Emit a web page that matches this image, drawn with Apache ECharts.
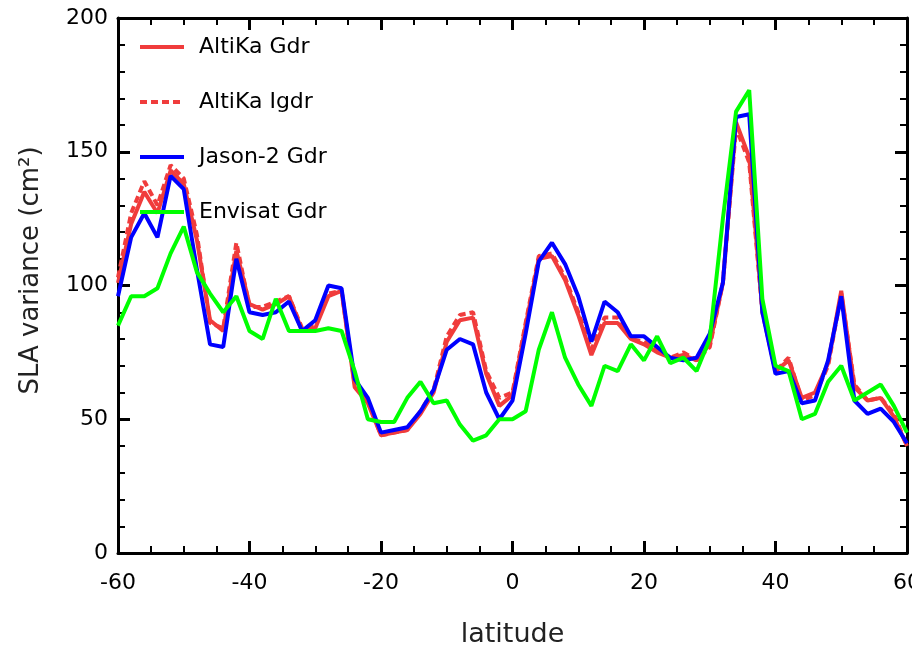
<!DOCTYPE html>
<html>
<head>
<meta charset="utf-8">
<script src="https://cdn.jsdelivr.net/npm/echarts@6/dist/echarts.min.js"></script>
<style>
  html, body { margin: 0; padding: 0; background: #fff; }
  #chart { width: 912px; height: 646px; }
</style>
</head>
<body>
<div id="chart"></div>
<script>
// latitude (deg), one sample every 2 degrees
var latitudes = [-60, -58, -56, -54, -52, -50, -48, -46, -44, -42, -40, -38, -36, -34, -32, -30,
  -28, -26, -24, -22, -20, -18, -16, -14, -12, -10, -8, -6, -4, -2, 0, 2, 4, 6, 8, 10, 12, 14,
  16, 18, 20, 22, 24, 26, 28, 30, 32, 34, 36, 38, 40, 42, 44, 46, 48, 50, 52, 54, 56, 58, 60];

// SLA variance (cm²)
var altikaGdr = [101, 123, 135, 127, 143, 138, 117, 87, 83, 113, 93, 91, 93, 96, 83, 84,
  96, 98, 62, 56, 44, 45, 46, 52, 60, 79, 87, 88, 67, 55, 59, 85, 110, 111, 102, 89, 74, 86,
  86, 80, 78, 75, 73, 74, 72, 78, 101, 161, 148, 91, 68, 72, 58, 60, 71, 98, 62, 57, 58, 51, 40];
var altikaIgdr = [103, 127, 139, 130, 145, 140, 119, 86, 84, 116, 92, 92, 94, 96, 84, 85,
  97, 98, 63, 57, 44, 45, 46, 53, 61, 81, 89, 90, 68, 58, 60, 86, 111, 112, 103, 90, 76, 88,
  88, 80, 79, 76, 73, 75, 72, 77, 101, 159, 146, 90, 68, 73, 57, 59, 70, 97, 63, 57, 58, 52, 40];
var jason2Gdr = [96, 118, 127, 118, 141, 136, 106, 78, 77, 110, 90, 89, 90, 94, 83, 87,
  100, 99, 65, 58, 45, 46, 47, 53, 61, 76, 80, 78, 60, 50, 57, 82, 109, 116, 108, 96, 79, 94,
  90, 81, 81, 77, 73, 72, 73, 82, 101, 163, 164, 90, 67, 68, 56, 57, 72, 96, 57, 52, 54, 49, 41];
var envisatGdr = [85, 96, 96, 99, 112, 122, 105, 97, 90, 96, 83, 80, 95, 83, 83, 83,
  84, 83, 68, 50, 49, 49, 58, 64, 56, 57, 48, 42, 44, 50, 50, 53, 76, 90, 73, 63, 55, 70,
  68, 78, 72, 81, 71, 73, 68, 80, 125, 165, 173, 95, 70, 68, 50, 52, 64, 70, 57, 60, 63, 55, 45];

var xTicks = { min: -60, max: 60, interval: 20 };
var yTicks = { min: 0, max: 200, interval: 50 };

function pairs(values) {
  return latitudes.map(function (lat, i) { return [lat, values[i]]; });
}

var FONT = 'DejaVu Sans';
var LINE_W = 4;
var chart = echarts.init(document.getElementById('chart'), null, { renderer: 'canvas' });

// 坐标轴公共样式：粗黑边框 + 向内刻度
function frameAxis(extra) {
  var base = {
    type: 'value',
    axisLine: { show: true, onZero: false, lineStyle: { color: '#000', width: 3 } },
    axisTick: { show: true, inside: true, length: 12, lineStyle: { color: '#000', width: 3 } },
    splitLine: { show: false },
    minorSplitLine: { show: false }
  };
  return Object.assign(base, extra);
}

chart.setOption({
  animation: false,
  backgroundColor: '#fff',
  grid: { left: 118, right: 5, top: 18, bottom: 93, containLabel: false, outerBoundsMode: 'none' },
  legend: {
    orient: 'vertical',
    left: 133,
    top: 31,
    itemWidth: 44,
    itemHeight: 14,
    itemGap: 33,
    itemStyle: { opacity: 0 },
    lineStyle: { width: LINE_W },
    textStyle: { fontFamily: FONT, fontSize: 22, color: '#000', lineHeight: 22, padding: [0, 0, 0, 10] },
    data: ['AltiKa Gdr', 'AltiKa Igdr', 'Jason-2 Gdr', 'Envisat Gdr']
  },
  xAxis: [
    frameAxis({
      min: xTicks.min, max: xTicks.max, interval: xTicks.interval,
      position: 'bottom',
      minorTick: { show: true, splitNumber: 4, length: 7, lineStyle: { color: '#000', width: 2 } },
      axisLabel: { color: '#000', fontFamily: FONT, fontSize: 22, margin: 19 },
      name: 'latitude',
      nameLocation: 'middle',
      nameGap: 68,
      nameTextStyle: { color: '#222', fontFamily: FONT, fontSize: 27 }
    }),
    frameAxis({
      min: xTicks.min, max: xTicks.max, interval: xTicks.interval,
      position: 'top',
      minorTick: { show: true, splitNumber: 4, length: 7, lineStyle: { color: '#000', width: 2 } },
      axisLabel: { show: false }
    })
  ],
  yAxis: [
    frameAxis({
      min: yTicks.min, max: yTicks.max, interval: yTicks.interval,
      position: 'left',
      minorTick: { show: true, splitNumber: 5, length: 7, lineStyle: { color: '#000', width: 2 } },
      axisLabel: { color: '#000', fontFamily: FONT, fontSize: 22, margin: 10 },
      name: 'SLA variance (cm²)',
      nameLocation: 'middle',
      nameGap: 74,
      nameTextStyle: { color: '#222', fontFamily: FONT, fontSize: 26, padding: [0, 0, 0, 30] }
    }),
    frameAxis({
      min: yTicks.min, max: yTicks.max, interval: yTicks.interval,
      position: 'right',
      minorTick: { show: true, splitNumber: 5, length: 7, lineStyle: { color: '#000', width: 2 } },
      axisLabel: { show: false }
    })
  ],
  series: [
    {
      name: 'AltiKa Gdr', type: 'line', symbol: 'none',
      itemStyle: { color: '#f03c3c' },
      lineStyle: { color: '#f03c3c', width: LINE_W },
      data: pairs(altikaGdr)
    },
    {
      name: 'AltiKa Igdr', type: 'line', symbol: 'none',
      itemStyle: { color: '#f03c3c' },
      lineStyle: { color: '#f03c3c', width: LINE_W, type: [7, 4] },
      data: pairs(altikaIgdr)
    },
    {
      name: 'Jason-2 Gdr', type: 'line', symbol: 'none',
      itemStyle: { color: '#0000ff' },
      lineStyle: { color: '#0000ff', width: LINE_W },
      data: pairs(jason2Gdr)
    },
    {
      name: 'Envisat Gdr', type: 'line', symbol: 'none',
      itemStyle: { color: '#00ff00' },
      lineStyle: { color: '#00ff00', width: LINE_W },
      data: pairs(envisatGdr)
    }
  ]
});
</script>
</body>
</html>
